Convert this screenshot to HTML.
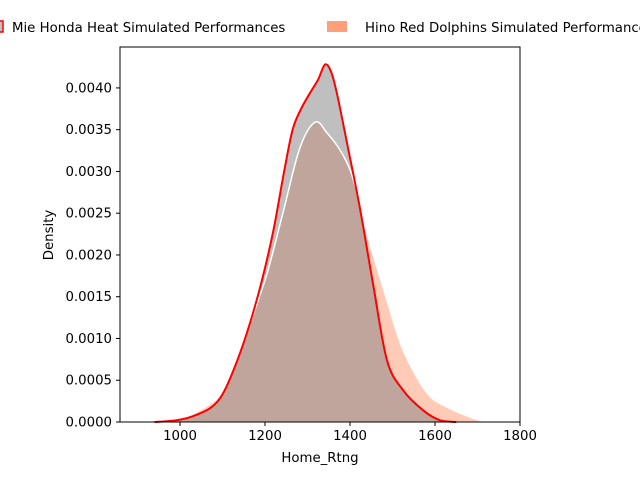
<!DOCTYPE html>
<html><head><meta charset="utf-8"><style>
html,body{margin:0;padding:0;background:#fff;width:640px;height:480px;overflow:hidden}
svg text{font-family:"DejaVu Sans","Liberation Sans",sans-serif;font-size:13.3px;fill:#000}
</style></head><body>
<svg id="chart" width="640" height="480" viewBox="0 0 640 480">
<g id="plot"></g>
<g id="axes"></g>
<g id="legend">
  <rect x="-8" y="21" width="11" height="11" fill="#c0c0c0" stroke="#ff0000" stroke-width="1.5"/>
  <text x="12" y="32">Mie Honda Heat Simulated Performances</text>
  <rect x="327" y="21" width="20" height="11" fill="#ffa07a"/>
  <text x="365" y="32">Hino Red Dolphins Simulated Performances</text>
</g>
</svg>
<script>
const mieX = [940,990,1025,1072,1102,1135,1165,1193,1220,1245,1265,1285,1306,1325,1341,1355,1369,1393,1423,1454,1487,1525,1572,1612,1650];
const mieY = [0,0.00002,0.00006,0.00017,0.00035,0.00074,0.00119,0.0017,0.0023,0.003,0.0035,0.00375,0.00394,0.0041,0.00428,0.0042,0.00394,0.00334,0.00257,0.00166,0.00074,0.00038,0.00014,0.00002,0];
const hinoX = [940,990,1025,1087,1110,1140,1165,1205,1243,1282,1318,1346,1376,1400,1420,1440,1487,1525,1581,1628,1682,1720];
const hinoY = [0,0.00003,0.00008,0.00028,0.00046,0.00082,0.00118,0.00178,0.00252,0.00328,0.00359,0.00346,0.00326,0.00302,0.00268,0.00226,0.00146,0.00086,0.00035,0.00018,0.00006,0];
const xTicks = [1000,1200,1400,1600,1800];
const yTicks = [0,0.0005,0.001,0.0015,0.002,0.0025,0.003,0.0035,0.004];
const yTickLabels = ["0.0000","0.0005","0.0010","0.0015","0.0020","0.0025","0.0030","0.0035","0.0040"];

const L=120,R=520,T=47,B=422;
const xMin=858.8,xMax=1800,yMin=0,yMax=0.00449;
const sx=v=>L+(v-xMin)/(xMax-xMin)*(R-L);
const sy=v=>B-(v-yMin)/(yMax-yMin)*(B-T);
const NS="http://www.w3.org/2000/svg";
function mk(tag,attrs,parent){const e=document.createElementNS(NS,tag);for(const k in attrs)e.setAttribute(k,attrs[k]);parent.appendChild(e);return e;}
function smoothPath(xs,ys){
  const p=xs.map((x,i)=>[sx(x),sy(ys[i])]);
  let d="M"+p[0][0]+","+p[0][1];
  for(let i=0;i<p.length-1;i++){
    const p0=p[i-1]||p[i],p1=p[i],p2=p[i+1],p3=p[i+2]||p2;
    const c1=[p1[0]+(p2[0]-p0[0])/6,p1[1]+(p2[1]-p0[1])/6];
    const c2=[p2[0]-(p3[0]-p1[0])/6,p2[1]-(p3[1]-p1[1])/6];
    d+=` C${c1[0]},${Math.min(c1[1],B)} ${c2[0]},${Math.min(c2[1],B)} ${p2[0]},${p2[1]}`;
  }
  return d;
}
const plot=document.getElementById('plot');
const axes=document.getElementById('axes');
const hp=smoothPath(hinoX,hinoY), mp=smoothPath(mieX,mieY);
let e;
e=mk('path',{d:hp+` L${sx(hinoX[hinoX.length-1])},${B} L${sx(hinoX[0])},${B} Z`,fill:'#ffa07a','fill-opacity':0.55},plot);


e=mk('path',{d:mp+` L${sx(mieX[mieX.length-1])},${B} L${sx(mieX[0])},${B} Z`,fill:'#808080','fill-opacity':0.5},plot);


e=mk('path',{d:hp,fill:'none',stroke:'#ffffff','stroke-width':1.5},plot);


e=mk('path',{d:mp,fill:'none',stroke:'#ff0000','stroke-width':2},plot);



e=mk('rect',{x:L,y:T,width:R-L,height:B-T,fill:'none',stroke:'#000','stroke-width':1},axes);


xTicks.forEach(v=>{
  const x=sx(v);
  let t=mk('line',{x1:x,x2:x,y1:B,y2:B+4,stroke:'#000'},axes);
  
  
  let l=mk('text',{x:x,y:B+18,'text-anchor':'middle'},axes);l.textContent=v;
  
  
});
yTicks.forEach((v,i)=>{
  const y=sy(v);
  let t=mk('line',{x1:L-4,x2:L,y1:y,y2:y,stroke:'#000'},axes);
  
  
  let l=mk('text',{x:L-8,y:y+4.5,'text-anchor':'end'},axes);l.textContent=yTickLabels[i];
  
  
});
e=mk('text',{x:320,y:462,'text-anchor':'middle'},axes);e.textContent='Home_Rtng';


e=mk('text',{x:53,y:235,'text-anchor':'middle',transform:'rotate(-90 53 235)'},axes);e.textContent='Density';


</script>
</body></html>
